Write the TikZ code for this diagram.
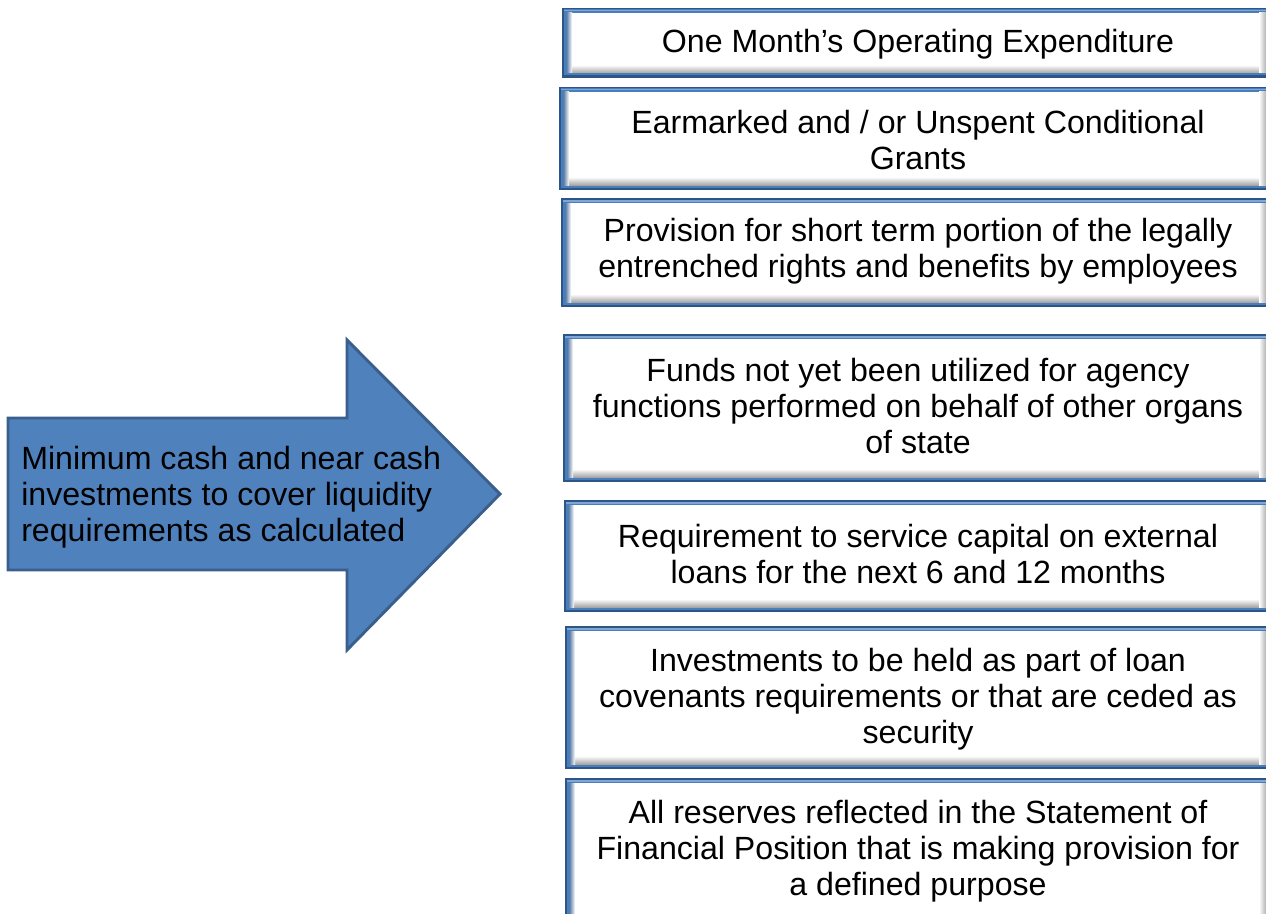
\documentclass[tikz,border=0pt]{standalone}
\usepackage{fontspec}
\setmainfont{Liberation Sans}
\definecolor{arrowblue}{HTML}{4F81BD}
\definecolor{arrowdark}{HTML}{3A5F8C}
\definecolor{frameblue}{HTML}{4A7EBB}
\definecolor{framedark}{HTML}{2E5587}
\definecolor{framelight}{HTML}{7FA6D6}
\tikzset{
  lbl/.style={font=\fontsize{24.1pt}{27pt}\selectfont, align=center, inner sep=0pt, text=black},
  srclbl/.style={font=\fontsize{24.1pt}{27pt}\selectfont, align=left, inner sep=0pt, text=black, anchor=west},
  bigarrow/.style={fill=arrowblue, draw=arrowdark, line width=2.2pt, line join=miter},
}
\begin{document}
\begin{tikzpicture}[x=0.75pt,y=-0.75pt]
\useasboundingbox (0,0) rectangle (1266,913);
\clip (0,0) rectangle (1266,913);
\fill[white] (0,0) rectangle (1266,913);
% framed panels
\foreach \l/\t/\b in {562/8/78, 559/87/190, 561/198/307, 563/334/482, 564/500/612, 565/626/769, 565/778/930}{
  \fill[framedark] (\l,\t) rectangle (1290,\b);
  \fill[frameblue] (\l+1.5,\t+1.5) rectangle (1288,\b-2.5);
  \fill[framelight] (\l+2,\t+2) rectangle (1288,\t+3.5);
  \fill[white] (\l+6,\t+5) rectangle (1266,\b-5);
  \shade[top color=white, bottom color=black!35] (\l+6,\b-13) rectangle (1266,\b-5);
  \shade[left color=framedark!70, right color=white] (\l+5,\t+5) rectangle (\l+10,\b-5);
  \shade[left color=white, right color=black!30] (1259,\t+5) rectangle (1266,\b-5);
}
% big arrow
\draw[bigarrow] (8,418) -- (347,418) -- (347,340) -- (500,494) -- (347,650) -- (347,570) -- (8,570) -- cycle;
\node[srclbl] (src) at (21,497) {Minimum cash and near cash\\investments to cover liquidity\\requirements as calculated};
% panel texts
\node[lbl] (b1) at (918,44) {One Month’s Operating Expenditure};
\node[lbl] (b2) at (918,140) {Earmarked and / or Unspent Conditional\\Grants};
\node[lbl] (b3) at (918,251) {Provision for short term portion of the legally\\entrenched rights and benefits by employees};
\node[lbl] (b4) at (918,406) {Funds not yet been utilized for agency\\functions performed on behalf of other organs\\of state};
\node[lbl] (b5) at (918,554) {Requirement to service capital on external\\loans for the next 6 and 12 months};
\node[lbl] (b6) at (918,699) {Investments to be held as part of loan\\covenants requirements or that are ceded as\\security};
\node[lbl] (b7) at (918,851) {All reserves reflected in the Statement of\\Financial Position that is making provision for\\a defined purpose};
\end{tikzpicture}
\end{document}
